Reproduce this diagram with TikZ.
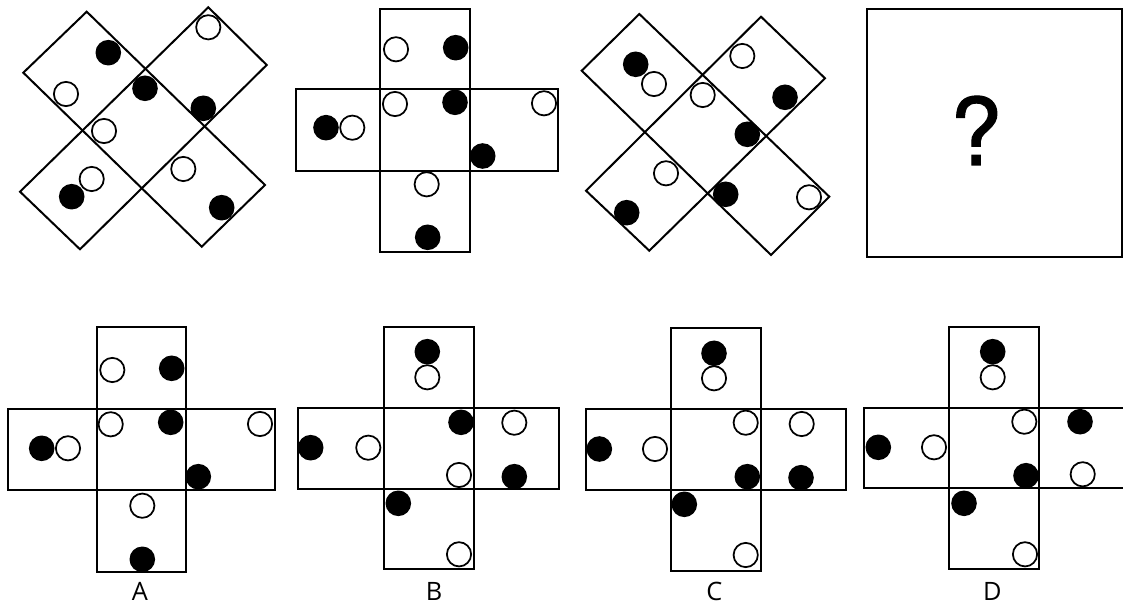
\documentclass[tikz,border=0pt]{standalone}
\usepackage{fontspec}
\setmainfont{Liberation Sans}
\newfontfamily\lblfont{Open Sans}
\newfontfamily\qfont[FakeBold=1.2]{TeX Gyre Heros}
\begin{document}
\begin{tikzpicture}[x=0.75pt,y=-0.75pt,
  frame/.style={draw=black, line width=1.5pt, line join=miter},
  wc/.style={circle, draw=black, line width=1.3pt, fill=white, minimum size=18.2pt, inner sep=0pt},
  bc/.style={circle, fill=black, minimum size=19.2pt, inner sep=0pt},
  lbl/.style={font=\lblfont\fontsize{19pt}{21pt}\selectfont, inner sep=0pt, anchor=base}]
\useasboundingbox (0,0) rectangle (1123,605);
\clip (0,0) rectangle (1123,605);
\fill[white] (0,0) rectangle (1123,605);

% ---------- Figure 1 ----------
\draw[frame] (23.3,72.7) -- (86.7,11.7) -- (265,185) -- (201.7,246.7) -- cycle;
\draw[frame] (208.3,7.3) -- (266.7,65) -- (80,249.3) -- (20,191.7) -- cycle;
\node[bc] (f1a) at (108.3,52.7) {};
\node[wc] (f1b) at (66,94) {};
\node[bc] (f1c) at (145,88.3) {};
\node[wc] (f1d) at (208.3,27.3) {};
\node[bc] (f1e) at (203.3,108.3) {};
\node[wc] (f1f) at (104,131) {};
\node[wc] (f1g) at (91.7,179) {};
\node[bc] (f1h) at (71.7,196.7) {};
\node[wc] (f1i) at (183.3,169) {};
\node[bc] (f1j) at (221.7,207.7) {};

% ---------- Figure 2 ----------
\draw[frame] (380,9.3) rectangle (470,251.7);
\draw[frame] (295.7,89.3) rectangle (558.3,170.7);
\node[wc] (f2a) at (396,49.3) {};
\node[bc] (f2b) at (455.7,47.7) {};
\node[wc] (f2c) at (395,104) {};
\node[bc] (f2d) at (455,102.3) {};
\node[wc] (f2e) at (544,103.3) {};
\node[bc] (f2f) at (326,127.7) {};
\node[wc] (f2g) at (352.3,127.7) {};
\node[bc] (f2h) at (482.7,156) {};
\node[wc] (f2i) at (426.7,184.3) {};
\node[bc] (f2j) at (427.7,237.3) {};

% ---------- Figure 3 ----------
\draw[frame] (581.7,70.7) -- (639.3,14) -- (829.3,196.7) -- (771,255) -- cycle;
\draw[frame] (761,16.7) -- (825,78.3) -- (649.3,250.7) -- (586,190.7) -- cycle;
\node[bc] (f3a) at (635.7,64.3) {};
\node[wc] (f3b) at (654,84) {};
\node[wc] (f3c) at (702.7,95) {};
\node[wc] (f3d) at (742.3,56) {};
\node[bc] (f3e) at (785,97.3) {};
\node[bc] (f3f) at (747.3,134.3) {};
\node[wc] (f3g) at (666,173.3) {};
\node[bc] (f3h) at (725.7,194.3) {};
\node[wc] (f3i) at (809,197.3) {};
\node[bc] (f3j) at (626.7,212.7) {};

% ---------- Figure 4 ----------
\draw[frame] (867.3,9.3) rectangle (1121.7,256.7);
\node[inner sep=0pt, anchor=base, font=\qfont\fontsize{70pt}{72pt}\selectfont] (q) at (976,165) {?};

% ---------- Option A ----------
\draw[frame] (96.7,327.3) rectangle (185.7,572.3);
\draw[frame] (7.7,409) rectangle (275,490);
\node[wc] (a1) at (112.3,370) {};
\node[bc] (a2) at (171.7,368.3) {};
\node[wc] (a3) at (110.7,424.3) {};
\node[bc] (a4) at (170.7,422.3) {};
\node[wc] (a5) at (260,424) {};
\node[bc] (a6) at (41.7,448.3) {};
\node[wc] (a7) at (68,448.3) {};
\node[bc] (a8) at (198.3,476.7) {};
\node[wc] (a9) at (142.3,505.7) {};
\node[bc] (a10) at (142.3,559.3) {};
\node[lbl] (la) at (140,600.5) {A};

% ---------- Option B ----------
\draw[frame] (384,327.3) rectangle (474,569.3);
\draw[frame] (297.7,408.3) rectangle (559.3,489);
\node[bc] (b1) at (427.3,351.7) {};
\node[wc] (b2) at (427.3,377.3) {};
\node[bc] (b3) at (461,422.3) {};
\node[wc] (b4) at (514.3,422.7) {};
\node[bc] (b5) at (310.7,447.7) {};
\node[wc] (b6) at (368.3,447.7) {};
\node[wc] (b7) at (459,475) {};
\node[bc] (b8) at (514.3,476.7) {};
\node[bc] (b9) at (398.3,503.3) {};
\node[wc] (b10) at (459,554.3) {};
\node[lbl] (lb) at (434,600.5) {B};

% ---------- Option C ----------
\draw[frame] (670.7,328.3) rectangle (760.7,570.7);
\draw[frame] (585.7,409.3) rectangle (846,490);
\node[bc] (c1) at (714,353.3) {};
\node[wc] (c2) at (714,378.3) {};
\node[wc] (c3) at (745.7,422.7) {};
\node[wc] (c4) at (801.7,424) {};
\node[bc] (c5) at (599.3,449) {};
\node[wc] (c6) at (655,449) {};
\node[bc] (c7) at (747.3,476.7) {};
\node[bc] (c8) at (801,477.7) {};
\node[bc] (c9) at (684.3,504.3) {};
\node[wc] (c10) at (745.7,555) {};
\node[lbl] (lc) at (714.3,600.5) {C};

% ---------- Option D ----------
\draw[frame] (949.3,327.3) rectangle (1039.3,569.3);
\draw[frame] (864.3,408.3) rectangle (1130,488.3);
\node[bc] (d1) at (992.7,351.7) {};
\node[wc] (d2) at (992.7,377.3) {};
\node[wc] (d3) at (1024.3,421.7) {};
\node[bc] (d4) at (1080,421.7) {};
\node[bc] (d5) at (878.3,447.3) {};
\node[wc] (d6) at (934,447.3) {};
\node[bc] (d7) at (1026,475.7) {};
\node[wc] (d8) at (1082.7,474.3) {};
\node[bc] (d9) at (964,503.3) {};
\node[wc] (d10) at (1025,554.3) {};
\node[lbl] (ld) at (992.3,600.5) {D};
\end{tikzpicture}
\end{document}
